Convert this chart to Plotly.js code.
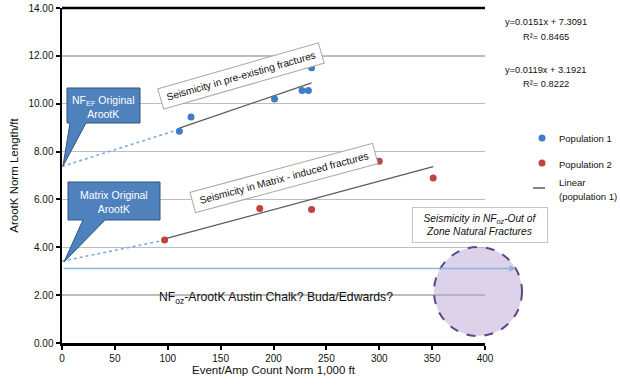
<!DOCTYPE html>
<html><head><meta charset="utf-8">
<script src="https://cdn.plot.ly/plotly-3.0.1.min.js"></script>
<style>html,body{margin:0;padding:0;background:#fff}#chart{width:620px;height:386px}</style>
</head><body><div id="chart"></div>
<script>
// ---- data ----
const pop1X = [111, 122, 201, 227, 233, 236];
const pop1Y = [8.85, 9.45, 10.2, 10.55, 10.55, 11.5];
const pop2X = [97, 187, 236, 300, 351];
const pop2Y = [4.3, 5.62, 5.58, 7.6, 6.9];
const trend1X = [111, 236];
const trend1Y = [8.98, 10.87];
const trend2X = [97, 351];
const trend2Y = [4.35, 7.37];
const ext1X = [0, 111];
const ext1Y = [7.38, 8.93];
const ext2X = [0, 97];
const ext2Y = [3.42, 4.3];
const xTicks = [0, 50, 100, 150, 200, 250, 300, 350, 400];
const yTicks = [0, 2, 4, 6, 8, 10, 12, 14];
const eq1 = ["y=0.0151x + 7.3091", "R\u00b2= 0.8465"];
const eq2 = ["y=0.0119x + 3.1921", "R\u00b2= 0.8222"];
const legendNames = ["Population 1", "Population 2", "Linear", "(population 1)"];

const FONT = "Liberation Sans, Arial, sans-serif";
const blue = "#3e7cc6", red = "#c0413f";

// plot-area geometry (pixels) used for decorations only
const L = 62, T = 8, W = 423, H = 335;
const fx = p => (p - L) / W;
const fy = p => (T + H - p) / H;
const pt = (x, y) => fx(x).toFixed(4) + "," + fy(y).toFixed(4);

const traces = [
  {x: ext1X, y: ext1Y, mode: "lines", line: {color: "#7aa6dc", width: 1.5, dash: "dot"}, hoverinfo: "skip"},
  {x: ext2X, y: ext2Y, mode: "lines", line: {color: "#7aa6dc", width: 1.5, dash: "dot"}, hoverinfo: "skip"},
  {x: trend1X, y: trend1Y, mode: "lines", line: {color: "#5a5a5a", width: 1.3}, name: "Linear (population 1)"},
  {x: trend2X, y: trend2Y, mode: "lines", line: {color: "#5a5a5a", width: 1.3}},
  {x: pop1X, y: pop1Y, mode: "markers", marker: {color: blue, size: 7}, name: "Population 1"},
  {x: pop2X, y: pop2Y, mode: "markers", marker: {color: red, size: 7}, name: "Population 2"}
];

function callout(box, base, tip) {
  const [x0, y0, x1, y1] = box;
  return "M" + pt(x0, y0) + " L" + pt(x1, y0) + " L" + pt(x1, y1) + " L" + pt(base[1], y1) +
         " L" + pt(tip[0], tip[1]) + " L" + pt(base[0], y1) + " L" + pt(x0, y1) + " Z";
}

const shapes = [
  {type: "circle", xref: "paper", yref: "paper", x0: fx(434), x1: fx(522), y0: fy(336), y1: fy(247),
   fillcolor: "rgba(185,165,212,0.5)", line: {color: "#5c4688", width: 2, dash: "dash"}, layer: "above"},
  {type: "path", xref: "paper", yref: "paper", path: callout([67, 88, 140, 123], [70, 86], [63, 166]),
   fillcolor: "#4f81bd", line: {color: "#2f5585", width: 1}},
  {type: "path", xref: "paper", yref: "paper", path: callout([68, 182, 160, 220], [83, 105], [64, 262]),
   fillcolor: "#4f81bd", line: {color: "#2f5585", width: 1}},
  {type: "line", xref: "paper", yref: "paper", x0: 0, x1: 1, y0: 1, y1: 1, line: {color: "#000", width: 2.5}},
  {type: "circle", xref: "paper", yref: "paper", x0: fx(538.5), x1: fx(545.5), y0: fy(141.5), y1: fy(134.5),
   fillcolor: blue, line: {width: 0}},
  {type: "circle", xref: "paper", yref: "paper", x0: fx(538.5), x1: fx(545.5), y0: fy(166.5), y1: fy(159.5),
   fillcolor: red, line: {width: 0}},
  {type: "line", xref: "paper", yref: "paper", x0: fx(533), x1: fx(545), y0: fy(188), y1: fy(188),
   line: {color: "#5a5a5a", width: 1.5}}
];

const ann = (x, y, text, extra) => Object.assign({xref: "paper", yref: "paper", x: fx(x), y: fy(y), text: text,
  xanchor: "center", yanchor: "middle", showarrow: false,
  font: {family: FONT, size: 10, color: "#111"}}, extra || {});
const f = (size, color, extra) => Object.assign({family: FONT, size: size, color: color || "#111"}, extra || {});

const annotations = [
  {xref: "paper", yref: "paper", axref: "paper", ayref: "paper", x: fx(516), y: fy(268.5), ax: fx(62), ay: fy(268.5),
   text: "", showarrow: true, arrowhead: 2, arrowsize: 1, arrowwidth: 1.3, arrowcolor: "#8fb2df", standoff: 0},
  ann(103, 107, "NF<sub>EF</sub> Original<br>ArootK", {font: f(10.5, "#fff")}),
  ann(114, 202, "Matrix Original<br>ArootK", {font: f(10.5, "#fff")}),
  ann(241, 76, "Seismicity in pre-existing fractures", {textangle: -16, bgcolor: "#fff", bordercolor: "#a8a8a8",
    borderwidth: 1, borderpad: 2, width: 162, height: 16, font: f(10.2)}),
  ann(284, 178, "Seismicity in Matrix - induced fractures", {textangle: -15, bgcolor: "#fff", bordercolor: "#a8a8a8",
    borderwidth: 1, borderpad: 2, width: 184, height: 16, font: f(10.2)}),
  ann(480, 225, "<i>Seismicity in NF<sub>oz</sub>-Out of<br>Zone Natural Fractures</i>", {bgcolor: "#fff",
    bordercolor: "#c4c4c4", borderwidth: 1, borderpad: 3, width: 128, height: 28, font: f(10.2)}),
  ann(276, 298, "NF<sub>oz</sub>-ArootK Austin Chalk? Buda/Edwards?", {font: f(12.2)}),
  ann(546, 22, eq1[0], {font: f(9.3)}),
  ann(546, 37, eq1[1], {font: f(9.3)}),
  ann(546, 70, eq2[0], {font: f(9.3)}),
  ann(546, 84, eq2[1], {font: f(9.3)}),
  ann(557, 138, legendNames[0], {xanchor: "left", font: f(9.5)}),
  ann(557, 164, legendNames[1], {xanchor: "left", font: f(9.5)}),
  ann(557, 183, legendNames[2], {xanchor: "left", font: f(9.5)}),
  ann(557, 196, legendNames[3], {xanchor: "left", font: f(9.5)})
];

const layout = {
  width: 620, height: 386,
  margin: {l: L, r: 620 - L - W, t: T, b: 386 - T - H},
  paper_bgcolor: "#fff", plot_bgcolor: "#fff",
  showlegend: false,
  font: {family: FONT, size: 10, color: "#111"},
  xaxis: {range: [0, 400], tickvals: xTicks, ticktext: xTicks.map(String), showline: true, linecolor: "#000", linewidth: 2.5,
    ticks: "outside", ticklen: 4, tickwidth: 2, tickcolor: "#000", showgrid: false, zeroline: false,
    tickfont: f(10),
    title: {text: "Event/Amp Count Norm 1,000 ft", font: f(11.5), standoff: 4}},
  yaxis: {range: [0, 14], tickvals: yTicks, ticktext: yTicks.map(v => v.toFixed(2)), showline: true, linecolor: "#000", linewidth: 2.5,
    ticks: "outside", ticklen: 4, tickwidth: 2, tickcolor: "#000", showgrid: true, gridcolor: "#bdbdbd", gridwidth: 1.5,
    zeroline: false, tickfont: f(10),
    title: {text: "ArootK Norm Length/ft", font: f(11.5), standoff: 8}},
  shapes: shapes,
  annotations: annotations
};

Plotly.newPlot("chart", traces, layout, {displayModeBar: false, staticPlot: true});
</script>
</body></html>
